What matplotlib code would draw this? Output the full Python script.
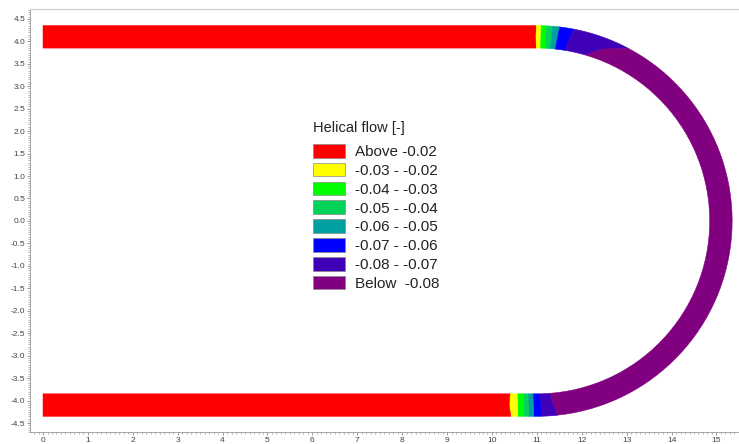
import matplotlib
matplotlib.use("Agg")
import matplotlib.pyplot as plt
from matplotlib.patches import Polygon, Patch
from matplotlib.ticker import MultipleLocator, FormatStrFormatter
import numpy as np

plt.rcParams['font.family'] = ['Liberation Sans', 'DejaVu Sans']
plt.rcParams['axes.unicode_minus'] = False

# channel geometry
straight_len = 11.0      # length of top / bottom straight parts
bend_radius = 4.1        # centreline radius of the bend, centre at (11, 0)
half_width = 0.25        # half channel width

# legend classes
labels = ['Above -0.02', '-0.03 - -0.02', '-0.04 - -0.03', '-0.05 - -0.04',
          '-0.06 - -0.05', '-0.07 - -0.06', '-0.08 - -0.07', 'Below  -0.08']
colors = ['#ff0000', '#ffff00', '#00ff00', '#00d25a',
          '#00a0a0', '#0000ff', '#4000b8', '#800080']

# class boundaries along the channel (centreline distance s), given at the
# inner edge, centre and outer edge of the channel
# top straight -> bend: red | yellow | lgreen | mgreen | teal | blue | indigo | purple
top_inner = [10.99, 11.09, 11.20, 11.32, 11.44, 11.67, 12.16]
top_mid = [10.98, 11.09, 11.20, 11.33, 11.46, 11.72, 12.50]
top_outer = [10.99, 11.09, 11.20, 11.33, 11.48, 11.78, 13.00]
top_classes = [0, 1, 2, 3, 4, 5, 6, 7]
# bend -> bottom straight: purple | indigo | blue | teal | mgreen | lgreen | yellow | red
bot_inner = [23.58, 23.82, 23.97, 24.08, 24.19, 24.32, 24.48]
bot_mid = [23.52, 23.80, 23.96, 24.07, 24.18, 24.31, 24.50]
bot_outer = [23.46, 23.79, 23.95, 24.07, 24.18, 24.31, 24.46]
bot_classes = [7, 6, 5, 4, 3, 2, 1, 0]


def to_xy(s, n):
    # s: distance along centreline, n: offset (positive = outer side)
    s = np.asarray(s, float)
    n = np.asarray(n, float) * np.ones_like(s)
    bend_len = np.pi * bend_radius
    x = np.empty_like(s)
    y = np.empty_like(s)
    top = s <= straight_len
    bend = (s > straight_len) & (s <= straight_len + bend_len)
    bot = s > straight_len + bend_len
    x[top] = s[top]
    y[top] = bend_radius + n[top]
    th = (s[bend] - straight_len) / bend_radius
    r = bend_radius + n[bend]
    x[bend] = straight_len + r * np.sin(th)
    y[bend] = r * np.cos(th)
    x[bot] = straight_len - (s[bot] - straight_len - bend_len)
    y[bot] = -bend_radius - n[bot]
    return x, y


def zone(cut_a, cut_b):
    # cut: (s_inner, s_mid, s_outer)
    ns = [-half_width, 0.0, half_width]
    pts = []
    so = np.linspace(cut_a[2], cut_b[2], 60)
    pts.append(np.column_stack(to_xy(so, half_width)))
    pts.append(np.column_stack(to_xy([cut_b[2], cut_b[1], cut_b[0]], ns[::-1])))
    si = np.linspace(cut_b[0], cut_a[0], 60)
    pts.append(np.column_stack(to_xy(si, -half_width)))
    pts.append(np.column_stack(to_xy([cut_a[0], cut_a[1], cut_a[2]], ns)))
    return np.vstack(pts)


total = 2 * straight_len + np.pi * bend_radius
cuts = ([(0.0, 0.0, 0.0)]
        + list(zip(top_inner, top_mid, top_outer))
        + list(zip(bot_inner, bot_mid, bot_outer))
        + [(total, total, total)])
classes = top_classes + bot_classes[1:]

fig = plt.figure(figsize=(7.39, 4.44), dpi=100)
ax = fig.add_axes([30 / 739, 12 / 444, 708 / 739, 423 / 444])

for i, c in enumerate(classes):
    poly = Polygon(zone(cuts[i], cuts[i + 1]), closed=True,
                   facecolor=colors[c], edgecolor=colors[c], linewidth=0.4)
    ax.add_patch(poly)

ax.set_xlim(-0.29, 15.48)
ax.set_ylim(-4.70, 4.72)

ax.xaxis.set_major_locator(MultipleLocator(1))
ax.yaxis.set_major_locator(MultipleLocator(0.5))
ax.xaxis.set_minor_locator(MultipleLocator(0.1))
ax.yaxis.set_minor_locator(MultipleLocator(0.05))
ax.yaxis.set_major_formatter(FormatStrFormatter('%.1f'))
ax.tick_params(which='major', length=2, width=0.6, color='#888888',
               labelsize=6, labelcolor='#444444', pad=1.5)
ax.tick_params(which='minor', length=1.5, width=0.5, color='#999999')
for side in ['left', 'bottom']:
    ax.spines[side].set_color('#999999')
    ax.spines[side].set_linewidth(0.6)
ax.spines['top'].set_color('#cccccc')
ax.spines['top'].set_linewidth(0.8)
ax.spines['right'].set_visible(False)

fig.text(313 / 739, 1 - 128 / 444, 'Helical flow [-]', fontsize=10.5,
         ha='left', va='center', color='#222222')
handles = [Patch(facecolor=c, edgecolor='#888888', linewidth=0.5) for c in colors]
leg = fig.legend(handles, labels, loc='upper left',
                 bbox_to_anchor=(313 / 739, 1 - 144 / 444), frameon=False,
                 fontsize=11, handlelength=2.1,
                 handleheight=1.0, labelspacing=0.245, handletextpad=0.65,
                 borderpad=0, borderaxespad=0)
for t in leg.get_texts():
    t.set_color('#222222')

fig.savefig('out.png', dpi=100)
